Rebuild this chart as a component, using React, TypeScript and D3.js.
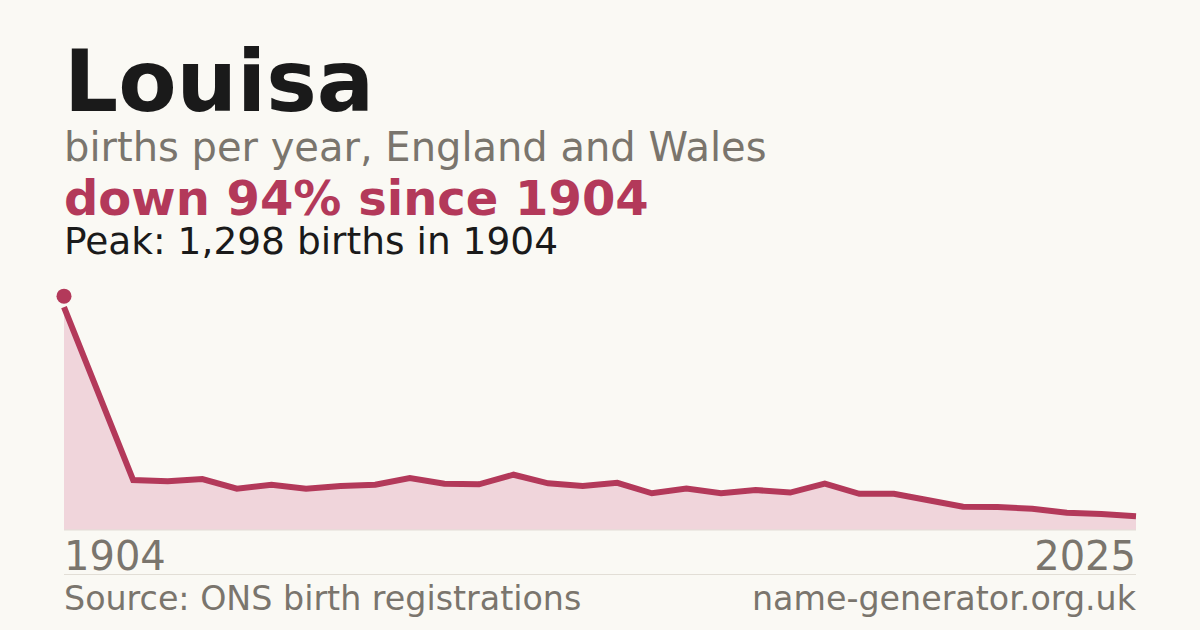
import React from 'react';
import * as d3 from 'd3';

// 数据：每个采样年份的出生数（1908 无记录）
const years = [1904, 1908, 1912, 1916, 1920, 1924, 1927, 1931, 1935, 1939, 1943, 1947, 1951, 1955, 1959, 1963,
  1966, 1970, 1974, 1978, 1982, 1986, 1990, 1994, 1998, 2002, 2005, 2009, 2013, 2017, 2021, 2025];
const births: (number | null)[] = [1298, null, 291, 284, 297, 241, 264, 241, 256, 264, 303, 270, 266, 322, 272, 256,
  275, 214, 241, 214, 233, 218, 270, 211, 211, 173, 135, 134, 124, 100, 93, 80];
const axisLabels = ['1904', '2025'];

const W = 1200, H = 630;
const left = 64, right = 1136, top = 296, bottom = 530;
const crimson = '#b3395a';
const grey = '#7a756d';
const font = '"DejaVu Sans", sans-serif';

export default function App() {
  const rows = years.map((yr, i) => ({ yr, v: births[i] })).filter(d => d.v != null) as { yr: number; v: number }[];
  const peak = d3.max(rows, d => d.v)!;
  const peakRow = rows.find(d => d.v === peak)!;
  const last = rows[rows.length - 1];
  const drop = Math.round((1 - last.v / peak) * 100);

  const x = d3.scalePoint<string>().domain(years.map(String)).range([left, right]).padding(0);
  const y = d3.scaleLinear().domain([0, peak * 1.05]).range([bottom, top]);

  const line = d3.line<{ yr: number; v: number }>().x(d => x(String(d.yr))!).y(d => y(d.v));
  const area = d3.area<{ yr: number; v: number }>().x(d => x(String(d.yr))!).y0(bottom).y1(d => y(d.v));

  return (
    <svg width={W} height={H} style={{ position: 'absolute', left: 0, top: 0 }} fontFamily={font}>
      <rect width={W} height={H} fill="#faf9f4" />
      <text x={left} y={111} fontSize={85} fontWeight="bold" fill="#1a1a1a">Louisa</text>
      <text x={left} y={161} fontSize={40} fill={grey}>births per year, England and Wales</text>
      <text x={left} y={215} fontSize={48} fontWeight="bold" fill={crimson}>down {drop}% since {peakRow.yr}</text>
      <text x={left} y={254} fontSize={37.5} fill="#1a1a1a">Peak: {d3.format(',')(peak)} births in {peakRow.yr}</text>

      <path d={area(rows)!} fill="#f0d5db" />
      <line x1={left} x2={right} y1={bottom} y2={bottom} stroke="#e2ded6" strokeWidth={1} />
      <path d={line(rows)!} fill="none" stroke={crimson} strokeWidth={6} />
      <circle cx={x(String(peakRow.yr))} cy={y(peak) - 11} r={7.5} fill={crimson} />

      <text x={left} y={570} fontSize={40} fill={grey}>{axisLabels[0]}</text>
      <text x={right} y={570} fontSize={40} fill={grey} textAnchor="end">{axisLabels[1]}</text>
      <line x1={left} x2={right} y1={574.5} y2={574.5} stroke="#e2ded6" strokeWidth={1} />
      <text x={left} y={610} fontSize={33.3} fill={grey}>Source: ONS birth registrations</text>
      <text x={right} y={610} fontSize={33.3} fill={grey} textAnchor="end">name-generator.org.uk</text>
    </svg>
  );
}
